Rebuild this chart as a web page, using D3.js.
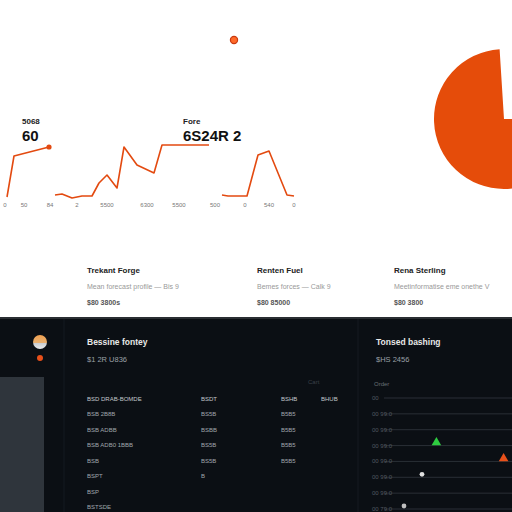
<!DOCTYPE html>
<meta charset="utf-8">
<style>
  body { margin: 0; background: #fff; }
  svg { display: block; font-family: "Liberation Sans", Arial, sans-serif; }
  .tick-lbl { font-size: 6px; fill: #777; text-anchor: middle; }
  .kpi-sm { font-size: 8px; fill: #222; font-weight: bold; }
  .kpi-lg { font-size: 15px; fill: #111; font-weight: bold; }
  .card-t { font-size: 8px; fill: #222; font-weight: bold; }
  .card-s { font-size: 7px; fill: #999; }
  .card-v { font-size: 7px; fill: #555; font-weight: bold; }
  .dk-t { font-size: 8.5px; fill: #e8e8e8; font-weight: bold; }
  .dk-s { font-size: 7.5px; fill: #9aa0a6; }
  .dk-c { font-size: 6px; fill: #8a9097; }
</style>
<body>
<svg width="512" height="512"></svg>
<script src="https://d3js.org/d3.v7.min.js"></script>
<script>
// line chart, three separate runs
var run1 = [[2, 0], [9, 41], [44, 50]];
var run2 = [[50, 2], [57, 3], [67, -1], [77, 1], [87, 1], [94, 14], [102, 22], [112, 9], [119, 50], [132, 32], [149, 24], [157, 52], [204, 52]];
var run3 = [[217, 2], [223, 1], [242, 1], [253, 42], [264, 46], [282, 2], [289, 1]];
var tickPos = [0, 19, 45, 72, 102, 142, 174, 210, 240, 264, 289];
var tickLbl = ["0", "50", "84", "2", "5500", "6300", "5500", "500", "0", "540", "0"];
var kpis = [{at: 19, small: "5068", big: "60"}, {at: 180, small: "Fore", big: "6S24R 2"}];

// pie (only one slice visible)
var pieShare = [74, 26];

// cards
var cardTitles = ["Trekant Forge", "Renten Fuel", "Rena Sterling"];
var cardSubs = ["Mean forecast profile  \u2014  Bis 9", "Bemes forces  \u2014  Calk 9", "Meetinformatise eme onethe  V"];
var cardVals = ["$80 3800s", "$80 85000", "$80 3800"];

// dark table
var tableHead = ["BSD DRAB-BOMDE", "BSDT", "BSHB", "BHUB"];
var tableRows = [
  ["BSB 2B8B", "BS5B", "B5B5", ""],
  ["BSB ADBB", "BSBB", "B5B5", ""],
  ["BSB ADB0   1BBB", "BS5B", "B5B5", ""],
  ["BSB", "BS5B", "B5B5", ""],
  ["BSPT", "B", "", ""],
  ["BSP", "", "", ""],
  ["BSTSDE", "", "", ""]
];

// dark dot chart
var dotRows = ["00", "00 99.0", "00 99.0", "00 99.0", "00 99.0", "00 99.0", "00 99.0", "00 79.0"];
var dots = [
  {row: 3, v: 37, c: "#2ecc40", s: "triangle"},
  {row: 4, v: 93, c: "#e8501a", s: "triangle"},
  {row: 5, v: 25, c: "#e0e0e0", s: "circle"},
  {row: 7, v: 10, c: "#c0c0c0", s: "circle"}
];

var svg = d3.select("svg");
var orange = "#e34a10";

// ---- top white area
var x = d3.scaleLinear().domain([0, 290]).range([5, 295]);
var y = d3.scaleLinear().domain([0, 50]).range([197, 147]);
var line = d3.line().x(function(d) { return x(d[0]); }).y(function(d) { return y(d[1]); });

[run1, run2, run3].forEach(function(r) {
  svg.append("path").attr("d", line(r))
    .attr("fill", "none").attr("stroke", orange).attr("stroke-width", 1.6)
    .attr("stroke-linejoin", "round");
});
svg.append("circle").attr("cx", x(44)).attr("cy", y(50)).attr("r", 2.6).attr("fill", orange);

svg.selectAll(".tick-lbl").data(tickPos).enter().append("text")
  .attr("class", "tick-lbl")
  .attr("x", function(d) { return x(d); }).attr("y", 207)
  .text(function(d, i) { return tickLbl[i]; });

kpis.forEach(function(k) {
  svg.append("text").attr("class", "kpi-sm").attr("x", x(k.at) - 2).attr("y", 124).text(k.small);
  svg.append("text").attr("class", "kpi-lg").attr("x", x(k.at) - 2).attr("y", 141).text(k.big);
});

svg.append("circle").attr("cx", 234).attr("cy", 40).attr("r", 3.6)
  .attr("fill", "#ff6a2a").attr("stroke", "#c83a10").attr("stroke-width", 1.2);

var pie = d3.pie().sort(null).startAngle(Math.PI / 2).endAngle(Math.PI / 2 + 2 * Math.PI);
var arc = d3.arc().innerRadius(0).outerRadius(70);
svg.append("g").attr("transform", "translate(504,119)")
  .selectAll("path").data(pie(pieShare)).enter().append("path")
  .attr("d", arc)
  .attr("fill", function(d, i) { return i === 0 ? "#e54c0a" : "none"; });

var cardX = [87, 257, 394];
cardTitles.forEach(function(t, i) {
  svg.append("text").attr("class", "card-t").attr("x", cardX[i]).attr("y", 273).text(t);
  svg.append("text").attr("class", "card-s").attr("x", cardX[i]).attr("y", 289).text(cardSubs[i]);
  svg.append("text").attr("class", "card-v").attr("x", cardX[i]).attr("y", 305).text(cardVals[i]);
});

// ---- dark area
svg.append("rect").attr("x", 0).attr("y", 318).attr("width", 512).attr("height", 194).attr("fill", "#0b0f14");
svg.append("rect").attr("x", 0).attr("y", 317).attr("width", 512).attr("height", 2).attr("fill", "#2a2e33");
svg.append("rect").attr("x", 0).attr("y", 377).attr("width", 44).attr("height", 135).attr("fill", "#2f353c");
svg.append("line").attr("x1", 64).attr("x2", 64).attr("y1", 319).attr("y2", 512).attr("stroke", "#151a20");
svg.append("line").attr("x1", 358).attr("x2", 358).attr("y1", 319).attr("y2", 512).attr("stroke", "#161b21");

var grad = svg.append("defs").append("linearGradient").attr("id", "av").attr("x1", 0).attr("y1", 0).attr("x2", 0).attr("y2", 1);
grad.append("stop").attr("offset", "0%").attr("stop-color", "#f0a050");
grad.append("stop").attr("offset", "55%").attr("stop-color", "#e8b070");
grad.append("stop").attr("offset", "56%").attr("stop-color", "#c8ccd0");
grad.append("stop").attr("offset", "100%").attr("stop-color", "#e8eaec");
svg.append("circle").attr("cx", 40).attr("cy", 342).attr("r", 7).attr("fill", "url(#av)");
svg.append("circle").attr("cx", 40).attr("cy", 358).attr("r", 3).attr("fill", "#e8501a");

svg.append("text").attr("class", "dk-t").attr("x", 87).attr("y", 345).text("Bessine fontey");
svg.append("text").attr("class", "dk-s").attr("x", 87).attr("y", 362).text("$1 2R U836");
svg.append("text").attr("class", "dk-c").attr("x", 308).attr("y", 384).style("fill", "#3a4048").text("Cart");

var colPos = [87, 201, 281, 321];
var rowY = d3.scaleLinear().domain([0, 7]).range([401, 509]);
[tableHead].concat(tableRows).forEach(function(r, ri) {
  r.forEach(function(c, ci) {
    svg.append("text").attr("class", "dk-c")
      .attr("x", colPos[ci]).attr("y", rowY(ri))
      .style("fill", ri === 0 ? "#c4c8cc" : "#a0a6ac")
      .text(c);
  });
});

svg.append("text").attr("class", "dk-t").attr("x", 376).attr("y", 345).text("Tonsed bashing");
svg.append("text").attr("class", "dk-s").attr("x", 376).attr("y", 362).text("$HS 2456");
svg.append("text").attr("class", "dk-c").attr("x", 374).attr("y", 386).style("fill", "#6a7077").text("Order");

var ry = d3.scalePoint().domain(d3.range(dotRows.length)).range([398, 509]);
var vx = d3.scaleLinear().domain([0, 100]).range([392, 512]);
dotRows.forEach(function(l, i) {
  svg.append("line").attr("x1", 384).attr("x2", 512).attr("y1", ry(i)).attr("y2", ry(i))
    .attr("stroke", "#2a2f36").attr("stroke-width", 1);
  svg.append("text").attr("class", "dk-c").attr("x", 372).attr("y", ry(i) + 2)
    .style("fill", "#525860").text(l);
});
var sym = {triangle: d3.symbolTriangle, circle: d3.symbolCircle};
dots.forEach(function(d) {
  svg.append("path")
    .attr("d", d3.symbol().type(sym[d.s]).size(d.s === "triangle" ? 40 : 18)())
    .attr("transform", "translate(" + vx(d.v) + "," + (ry(d.row) - 3) + ")")
    .attr("fill", d.c);
});
</script>
</body>
